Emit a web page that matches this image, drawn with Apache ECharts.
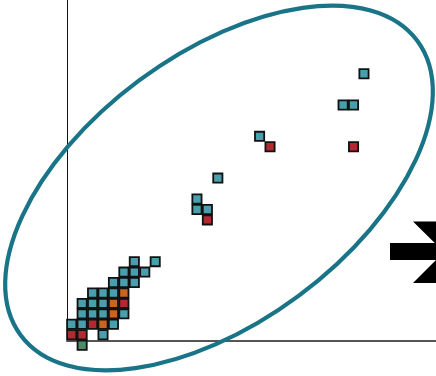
<!DOCTYPE html>
<html>
<head>
<meta charset="utf-8">
<script src="https://cdn.jsdelivr.net/npm/echarts@6/dist/echarts.min.js"></script>
<style>html,body{margin:0;padding:0;background:#fff}#c{width:436px;height:376px}</style>
</head>
<body>
<div id="c"></div>
<script>
// Grid cells [column, row]
var tealCells = [
  [3,0],
  [0,1],[1,1],[4,1],
  [1,2],[2,2],[3,2],[5,2],
  [1,3],[2,3],[3,3],
  [2,4],[3,4],[4,4],
  [4,5],[5,5],[6,5],
  [5,6],[6,6],[7,6],
  [6,7],[8,7],
  [12,13],[12,12],[13,12],[14,15],[18,19],[26,22],[27,22],[28,25]
];
var redCells = [[0,0],[1,0],[2,1],[5,3],[13,11],[19,18],[27,18]];
var orangeCells = [[3,1],[4,2],[4,3],[5,4]];
var greenCells = [[1,-1]];

var chart = echarts.init(document.getElementById('c'), null, {renderer: 'canvas'});
function sq(name, data, color) {
  return {
    name: name, type: 'scatter', data: data, symbol: 'rect', symbolSize: 9.2,
    clip: false, z: 3,
    itemStyle: {color: color, borderColor: '#111', borderWidth: 1.8, opacity: 1},
    emphasis: {disabled: true}
  };
}
var cx = 219, cy = 188;
chart.setOption({
  animation: false,
  backgroundColor: '#fff',
  grid: {left: 67, top: 0, width: 369, height: 341, containLabel: false},
  xAxis: {
    type: 'value', min: -0.45, max: 34.9,
    axisLine: {show: true, onZero: false, lineStyle: {color: '#555', width: 2}},
    axisTick: {show: false}, axisLabel: {show: false}, splitLine: {show: false}
  },
  yAxis: {
    type: 'value', min: -0.6, max: 32.06,
    axisLine: {show: true, onZero: false, lineStyle: {color: '#111', width: 1}},
    axisTick: {show: false}, axisLabel: {show: false}, splitLine: {show: false}
  },
  series: [
    sq('teal', tealCells, '#4a9fae'),
    sq('red', redCells, '#b02a2f'),
    sq('orange', orangeCells, '#c9651c'),
    sq('green', greenCells, '#4f8a66')
  ],
  graphic: [
    {
      type: 'ellipse', x: cx, y: cy, rotation: 36.6 * Math.PI / 180,
      shape: {cx: 0, cy: 0, rx: 247, ry: 134},
      style: {fill: 'none', stroke: '#197487', lineWidth: 4.2}, z: 10, silent: true
    },
    {
      type: 'rect', shape: {x: 390, y: 243, width: 60, height: 17},
      style: {fill: '#000'}, z: 11, silent: true
    },
    {
      type: 'polygon',
      shape: {points: [[413,221.5],[470,221.5],[501,252],[470,283],[413,283],[444,252]]},
      style: {fill: '#000'}, z: 11, silent: true
    }
  ]
});
</script>
</body>
</html>
